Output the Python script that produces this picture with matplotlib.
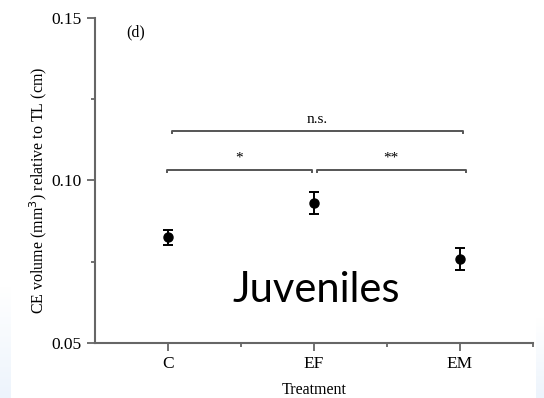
import numpy as np
import matplotlib.pyplot as plt
from matplotlib.colors import LinearSegmentedColormap

treatments = ['C', 'EF', 'EM']
means = [0.0826, 0.0931, 0.0758]
errors = [0.0023, 0.0034, 0.0034]

# significance brackets: (start, end, height, label)
brackets = [(0.03, 2.02, 0.1152, 'n.s.'),
            (-0.01, 0.99, 0.1032, '*'),
            (1.02, 2.04, 0.1032, '**')]

plt.rcParams['font.family'] = 'Liberation Serif'

fig = plt.figure(figsize=(5.44, 3.98), dpi=100)

# light blue slide background strips at the edges
grad = np.linspace(0, 1, 100).reshape(-1, 1)
cmap = LinearSegmentedColormap.from_list('b', ['#edf4fc', '#ffffff'])
bg = fig.add_axes([0, 0, 0.019, 0.28])
bg.imshow(grad, aspect='auto', cmap=cmap, origin='lower')
bg.axis('off')
bg2 = fig.add_axes([0.986, 0, 0.014, 0.2])
bg2.imshow(grad, aspect='auto', cmap=cmap, origin='lower')
bg2.axis('off')

ax = fig.add_axes([0.1746, 0.138, 0.805, 0.817])
x = np.arange(len(treatments))
ax.errorbar(x, means, yerr=errors, fmt='o', color='black', ms=6.5,
            capsize=3.6, elinewidth=1.4, capthick=1.4)

for x0, x1, h, lab in brackets:
    ax.plot([x0, x0, x1, x1], [h - 0.0006, h, h, h - 0.0006], color='#555555', lw=1.4)
    ax.text((x0 + x1) / 2, h + 0.0016, lab, ha='center', va='bottom', fontsize=11)

ax.set_xlim(-0.5, 2.5)
ax.set_ylim(0.05, 0.15)
ax.set_xticks(x)
ax.set_xticklabels(treatments)
ax.set_xticks([0.5, 1.5, 2.5], minor=True)
ax.set_yticks([0.05, 0.10, 0.15])
ax.set_yticklabels(['0.05', '0.10', '0.15'])
ax.set_yticks([0.075, 0.125], minor=True)

for s in ['top', 'right']:
    ax.spines[s].set_visible(False)
for s in ['left', 'bottom']:
    ax.spines[s].set_color('#666666')
    ax.spines[s].set_linewidth(1.5)
ax.tick_params(which='major', length=6, width=1.3, color='#666666', labelsize=12.5)
ax.tick_params(which='minor', length=3, width=1.3, color='#666666')

ax.set_ylabel('CE volume (mm$^3$) relative to TL (cm)', fontsize=11.5, labelpad=2)
ax.yaxis.label.set_y(0.47)
ax.set_xlabel('Treatment', fontsize=11.5, labelpad=7)

ax.text(-0.22, 0.1455, '(d)', fontsize=11.5, ha='center', va='center')
fig.text(316 / 544, 1 - 302 / 398, 'Juveniles', family='Lato', fontsize=30,
         ha='center', va='baseline')

fig.savefig('out.png', dpi=100)
